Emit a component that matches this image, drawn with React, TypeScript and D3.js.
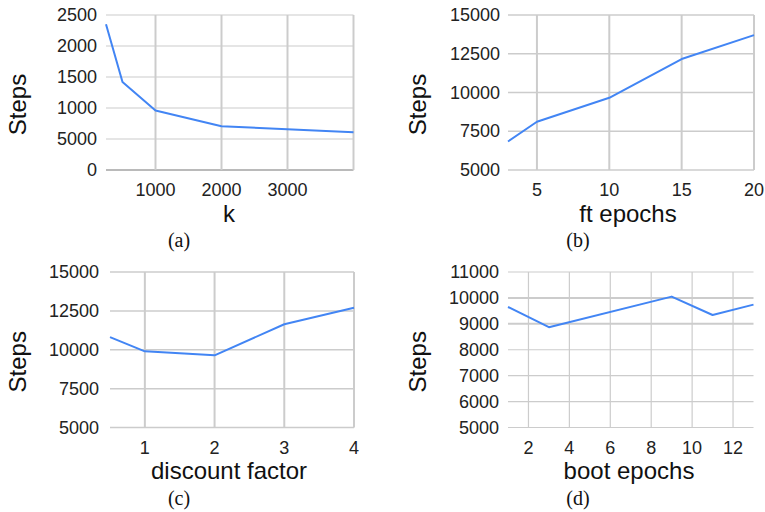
import React from "react";
import { scaleLinear, line } from "d3";

// (a) k
const kValues = [250, 500, 1000, 2000, 4000];
const kSteps = [2350, 1420, 960, 705, 610];
const kXTicks = [1000, 2000, 3000];
const kYTicks = [0, 500, 1000, 1500, 2000, 2500];
const kYLabels = ["0", "5000", "1000", "1500", "2000", "2500"];

// (b) ft epochs
const ftEpochs = [3, 5, 10, 15, 20];
const ftSteps = [6840, 8110, 9660, 12160, 13700];
const ftXTicks = [5, 10, 15, 20];
const ftYTicks = [5000, 7500, 10000, 12500, 15000];

// (c) discount factor
const discount = [0.5, 1, 2, 3, 4];
const discountSteps = [10810, 9900, 9640, 11640, 12700];
const discountXTicks = [1, 2, 3, 4];
const discountYTicks = [5000, 7500, 10000, 12500, 15000];

// (d) boot epochs
const bootEpochs = [1, 3, 9, 11, 13];
const bootSteps = [9650, 8870, 10050, 9340, 9740];
const bootXTicks = [2, 4, 6, 8, 10, 12];
const bootYTicks = [5000, 6000, 7000, 8000, 9000, 10000, 11000];

const BLUE = "#4285f4";
const GRID = "#cccccc";
const SANS = "Liberation Sans, Arial, sans-serif";
const SERIF = "Liberation Serif, DejaVu Serif, serif";

type PanelProps = {
  x: number[];
  y: number[];
  xDomain: [number, number];
  yDomain: [number, number];
  xTicks: number[];
  yTicks: number[];
  yLabels?: string[];
  left: number;
  right: number;
  top: number;
  bottom: number;
  yLabelX: number;
  tickRight: number;
  xTitle: string;
  caption: string;
  captionX: number;
  xTitleX: number;
  vGridWidth: number;
  hGridWidth: (v: number) => number;
  rightEdge?: boolean;
  baseDark?: boolean;
};

const Panel = (p: PanelProps) => {
  const xScale = scaleLinear().domain(p.xDomain).range([p.left, p.right]);
  const yScale = scaleLinear().domain(p.yDomain).range([p.bottom, p.top]);
  const pts = p.x.map((v, i) => [v, p.y[i]] as [number, number]);
  const path = line<[number, number]>()
    .x((d) => xScale(d[0]))
    .y((d) => yScale(d[1]))(pts);
  // the y title sits a little below the plot's middle
  const titleY = (p.top + p.bottom) / 2 + 12;

  return (
    <g>
      {p.yTicks.map((t) => (
        <line
          key={"h" + t}
          x1={p.left}
          x2={p.right}
          y1={yScale(t)}
          y2={yScale(t)}
          stroke={p.baseDark && t === p.yDomain[0] ? "#777" : GRID}
          strokeWidth={p.baseDark && t === p.yDomain[0] ? 1.2 : p.hGridWidth(t)}
        />
      ))}
      {p.xTicks.map((t) => (
        <line
          key={"v" + t}
          x1={xScale(t)}
          x2={xScale(t)}
          y1={p.top}
          y2={p.bottom}
          stroke={GRID}
          strokeWidth={p.vGridWidth}
        />
      ))}
      {p.rightEdge && (
        <line
          x1={p.right}
          x2={p.right}
          y1={p.top}
          y2={p.bottom}
          stroke={GRID}
          strokeWidth={p.vGridWidth}
        />
      )}
      <path d={path ?? ""} fill="none" stroke={BLUE} strokeWidth={2} strokeLinejoin="round" />
      {p.yTicks.map((t, i) => (
        <text
          key={"yl" + t}
          x={p.tickRight}
          y={yScale(t)}
          textAnchor="end"
          dominantBaseline="central"
          fontFamily={SANS}
          fontSize={18}
          fill="#222"
        >
          {p.yLabels ? p.yLabels[i] : String(t)}
        </text>
      ))}
      {p.xTicks.map((t) => (
        <text
          key={"xl" + t}
          x={xScale(t)}
          y={p.bottom + 20}
          textAnchor="middle"
          dominantBaseline="central"
          fontFamily={SANS}
          fontSize={18}
          fill="#222"
        >
          {t}
        </text>
      ))}
      <text
        transform={`translate(${p.yLabelX},${titleY}) rotate(-90)`}
        textAnchor="middle"
        dominantBaseline="central"
        fontFamily={SANS}
        fontSize={24}
        fill="#111"
      >
        Steps
      </text>
      <text
        x={p.xTitleX}
        y={p.bottom + 43}
        textAnchor="middle"
        dominantBaseline="central"
        fontFamily={SANS}
        fontSize={24}
        fill="#111"
      >
        {p.xTitle}
      </text>
      <text
        x={p.captionX}
        y={p.bottom + 70}
        textAnchor="middle"
        dominantBaseline="central"
        fontFamily={SERIF}
        fontSize={20}
        fill="#111"
      >
        {p.caption}
      </text>
    </g>
  );
};

export default function App() {
  return (
    <svg
      width={765}
      height={512}
      style={{ position: "absolute", left: 0, top: 0, background: "#fff" }}
    >
      <Panel
        x={kValues}
        y={kSteps}
        xDomain={[250, 4000]}
        yDomain={[0, 2500]}
        xTicks={kXTicks}
        yTicks={kYTicks}
        yLabels={kYLabels}
        left={106}
        right={353.5}
        top={15}
        bottom={170}
        yLabelX={17}
        tickRight={97}
        xTitle="k"
        xTitleX={229}
        caption="(a)"
        captionX={179}
        vGridWidth={2}
        hGridWidth={() => 1.2}
        rightEdge
        baseDark
      />
      <Panel
        x={ftEpochs}
        y={ftSteps}
        xDomain={[3, 20]}
        yDomain={[5000, 15000]}
        xTicks={ftXTicks}
        yTicks={ftYTicks}
        left={508}
        right={754}
        top={15}
        bottom={170}
        yLabelX={417}
        tickRight={500}
        xTitle="ft epochs"
        xTitleX={628}
        caption="(b)"
        captionX={578}
        vGridWidth={2}
        hGridWidth={() => 1.5}
      />
      <Panel
        x={discount}
        y={discountSteps}
        xDomain={[0.5, 4]}
        yDomain={[5000, 15000]}
        xTicks={discountXTicks}
        yTicks={discountYTicks}
        left={110}
        right={354}
        top={272}
        bottom={427.5}
        yLabelX={17}
        tickRight={99}
        xTitle="discount factor"
        xTitleX={229}
        caption="(c)"
        captionX={179}
        vGridWidth={2}
        hGridWidth={() => 1.5}
      />
      <Panel
        x={bootEpochs}
        y={bootSteps}
        xDomain={[1, 13]}
        yDomain={[5000, 11000]}
        xTicks={bootXTicks}
        yTicks={bootYTicks}
        left={508}
        right={753.5}
        top={272}
        bottom={427.5}
        yLabelX={417}
        tickRight={499}
        xTitle="boot epochs"
        xTitleX={629}
        caption="(d)"
        captionX={578}
        vGridWidth={1.2}
        hGridWidth={(v) => (v === 9000 || v === 10000 ? 2 : 1.2)}
      />
    </svg>
  );
}
